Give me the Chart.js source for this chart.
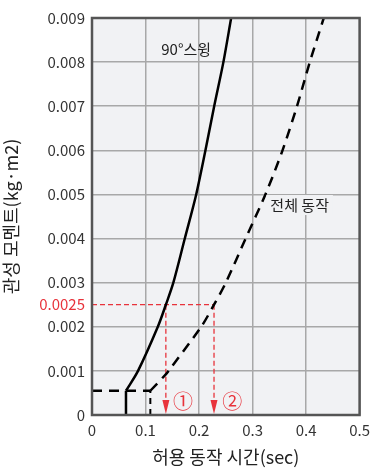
<!DOCTYPE html>
<html><head><meta charset="utf-8">
<script src="https://cdn.jsdelivr.net/npm/chart.js@4"></script>
<style>html,body{margin:0;padding:0;background:#fff}#wrap{width:376px;height:468px}</style>
</head><body><div id="wrap"><canvas id="c" width="376" height="468"></canvas></div>
<script>
// ---- data ----
const swingCurveX = [0.0635, 0.086, 0.123, 0.138, 0.152, 0.1734, 0.1947, 0.212, 0.2283, 0.2455, 0.260];
const swingCurveY = [0.00055, 0.001, 0.002, 0.0025, 0.003, 0.004, 0.005, 0.006, 0.007, 0.008, 0.009];
const swingStemX = [0.0635, 0.0635];
const swingStemY = [0, 0.00055];
const totalCurveX = [0.109, 0.137, 0.143, 0.204, 0.228, 0.250, 0.287, 0.324, 0.356, 0.383, 0.407, 0.433];
const totalCurveY = [0.00055, 0.00091, 0.001, 0.002, 0.0025, 0.003, 0.004, 0.005, 0.006, 0.007, 0.008, 0.009];
const baseLineX = [0, 0.109];
const baseLineY = [0.00055, 0.00055];
const totalStemX = [0.109, 0.109];
const totalStemY = [0, 0.00055];
const refLevel = 0.0025;
const refTimes = [0.138, 0.228];
const refMarks = ['①', '②'];
const refMarkX = [0.170, 0.262];
const refMarkY = 0.0003;
const xTicks = [0, 0.1, 0.2, 0.3, 0.4, 0.5];
const yTicks = [0, 0.001, 0.002, 0.0025, 0.003, 0.004, 0.005, 0.006, 0.007, 0.008, 0.009];
const curveLabels = [{text: '90°스윙', x: 0.176, y: 0.00828, box: false}, {text: '전체 동작', x: 0.388, y: 0.00476, box: true}];
const xTitle = '허용 동작 시간(sec)';
const yTitle = '관성 모멘트(kg·m2)';

const FONT = "'Noto Sans CJK KR','Noto Sans',sans-serif";
const RED = '#e8333b';
const BG = '#f1f2f4';
const pts = (xs, ys) => xs.map((x, i) => ({x, y: ys[i]}));

const bgPlugin = {
  id: 'bg',
  beforeDraw(chart) {
    const {ctx, chartArea: a} = chart;
    ctx.save(); ctx.fillStyle = BG; ctx.fillRect(a.left, a.top, a.right - a.left, a.bottom - a.top); ctx.restore();
  },
  afterDatasetsDraw(chart) {
    const {ctx, chartArea: a, scales: {x, y}} = chart;
    ctx.save();
    ctx.fillStyle = RED;
    refTimes.forEach(t => {
      const px = x.getPixelForValue(t), py = y.getPixelForValue(0) - 1;
      ctx.beginPath(); ctx.moveTo(px, py); ctx.lineTo(px - 3.5, py - 14); ctx.lineTo(px + 3.5, py - 14); ctx.closePath(); ctx.fill();
    });
    ctx.font = '20px ' + FONT; ctx.textAlign = 'center'; ctx.textBaseline = 'middle';
    refMarks.forEach((m, i) => ctx.fillText(m, x.getPixelForValue(refMarkX[i]), y.getPixelForValue(refMarkY)));
    ctx.font = '15px ' + FONT; ctx.fillStyle = '#222';
    curveLabels.forEach(l => {
      const px = x.getPixelForValue(l.x), py = y.getPixelForValue(l.y);
      if (l.box) { const w = ctx.measureText(l.text).width + 8; ctx.fillStyle = BG; ctx.fillRect(px - w / 2, py - 10, w, 20); ctx.fillStyle = '#222'; }
      ctx.fillText(l.text, px, py);
    });
    ctx.strokeStyle = '#555'; ctx.lineWidth = 2.5;
    ctx.strokeRect(a.left, a.top, a.right - a.left, a.bottom - a.top);
    ctx.restore();
  }
};

const lineDs = (data, opts) => Object.assign({data, showLine: true, pointRadius: 0, borderColor: '#000', borderWidth: 2.5, fill: false}, opts);

new Chart(document.getElementById('c'), {
  type: 'scatter',
  data: {
    datasets: [
      lineDs(pts(swingStemX, swingStemY), {}),
      lineDs(pts(swingCurveX, swingCurveY), {tension: 0.3}),
      lineDs(pts(baseLineX, baseLineY), {borderDash: [10, 7]}),
      lineDs(pts(totalStemX, totalStemY), {borderDash: [6, 5], borderWidth: 2}),
      lineDs(pts(totalCurveX, totalCurveY), {borderDash: [10, 7], tension: 0.3}),
      lineDs([{x: 0, y: refLevel}, {x: refTimes[1], y: refLevel}], {borderColor: RED, borderWidth: 1.3, borderDash: [5, 3]}),
      lineDs([{x: refTimes[0], y: refLevel}, {x: refTimes[0], y: 0.0003}], {borderColor: RED, borderWidth: 1.3, borderDash: [5, 3]}),
      lineDs([{x: refTimes[1], y: refLevel}, {x: refTimes[1], y: 0.0003}], {borderColor: RED, borderWidth: 1.3, borderDash: [5, 3]})
    ]
  },
  options: {
    responsive: false, animation: false,
    layout: {padding: {left: 0, right: 11, top: 18, bottom: 0}},
    plugins: {legend: {display: false}, tooltip: {enabled: false}},
    scales: {
      x: {
        type: 'linear', min: 0, max: 0.5,
        afterBuildTicks: s => { s.ticks = xTicks.map(v => ({value: v})); },
        afterFit: s => { s.height = 53; },
        grid: {color: '#a8a8a8', lineWidth: 1.5, drawTicks: false},
        border: {display: false},
        ticks: {padding: 6, color: '#333', font: {family: FONT, size: 15}, callback: v => String(v)},
        title: {display: true, text: xTitle, color: '#222', font: {family: FONT, size: 18}, padding: {top: 0, bottom: 0}}
      },
      y: {
        type: 'linear', min: 0, max: 0.009,
        afterBuildTicks: s => { s.ticks = yTicks.map(v => ({value: v})); },
        afterFit: s => { s.width = 92; },
        grid: {color: c => (c.tick && c.tick.value === refLevel) ? 'rgba(0,0,0,0)' : '#a8a8a8', lineWidth: 1.5, drawTicks: false},
        border: {display: false},
        ticks: {padding: 7, color: c => (c.tick && c.tick.value === refLevel) ? RED : '#333', font: {family: FONT, size: 15}, callback: v => String(v)},
        title: {display: true, text: yTitle, color: '#222', font: {family: FONT, size: 18}, padding: {top: 0, bottom: 0}}
      }
    }
  },
  plugins: [bgPlugin]
});
</script>
</body></html>
